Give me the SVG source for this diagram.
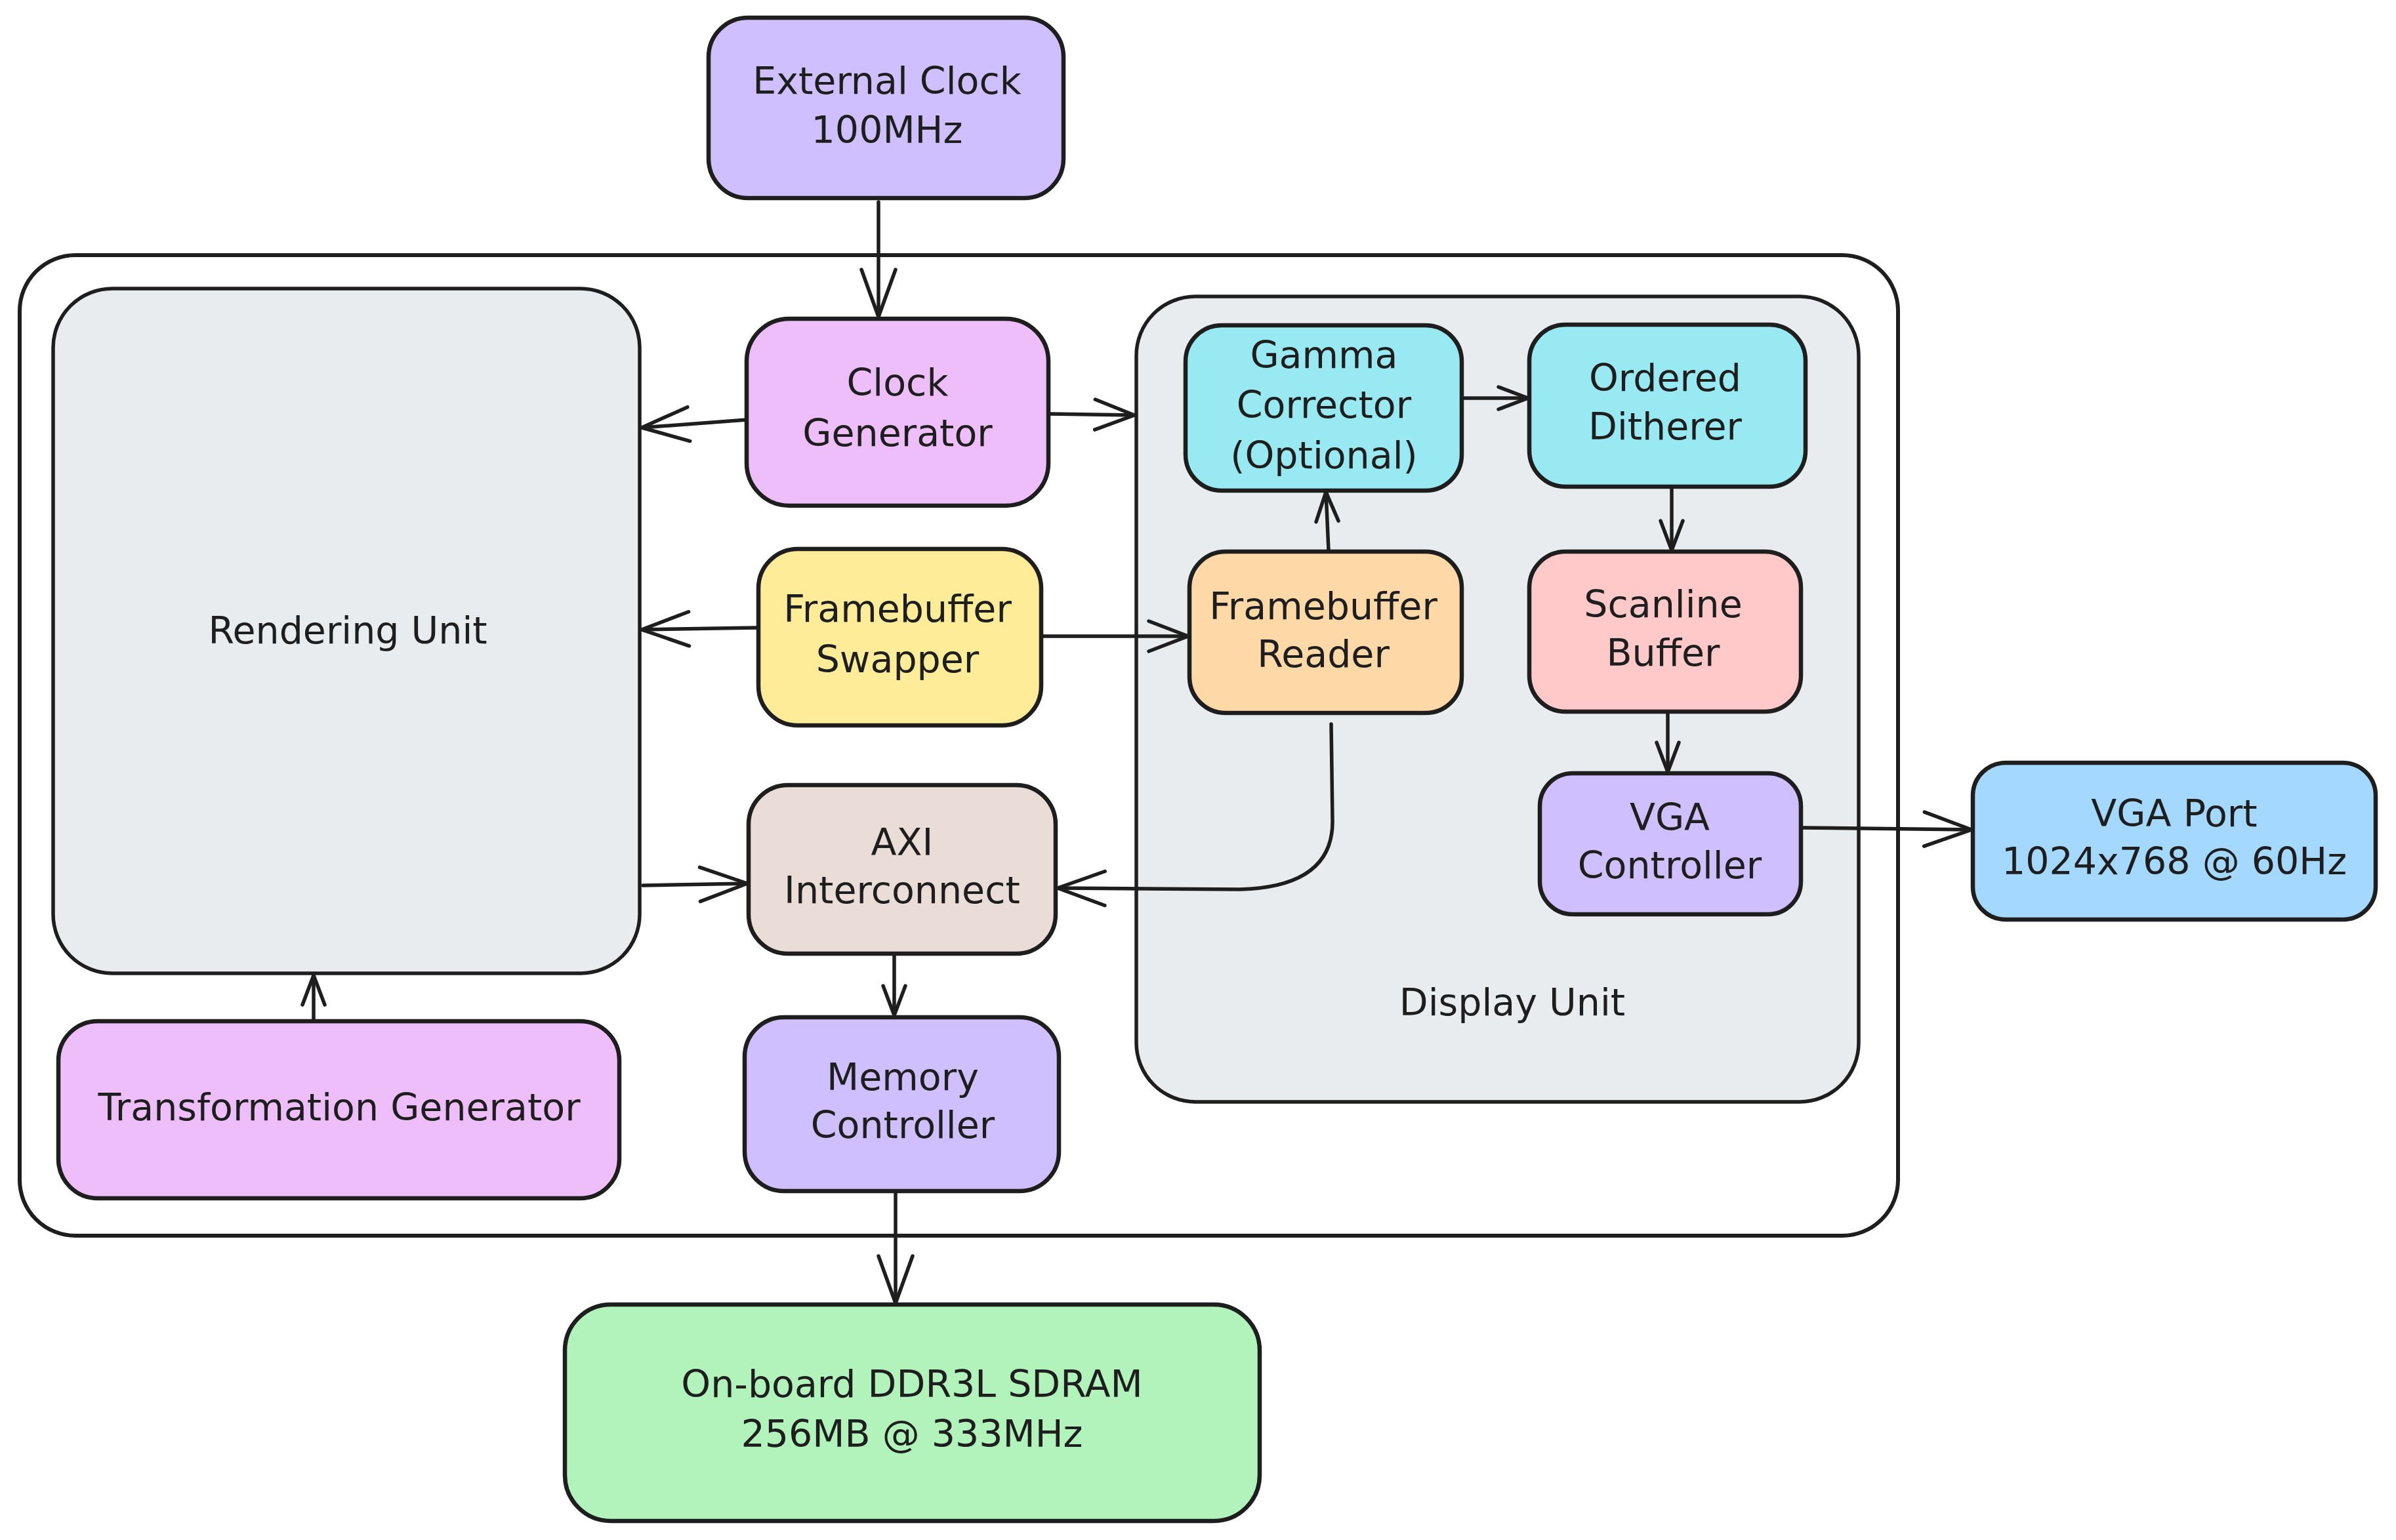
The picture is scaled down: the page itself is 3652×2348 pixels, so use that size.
<svg xmlns="http://www.w3.org/2000/svg" width="3652" height="2348" viewBox="0 0 3652 2348">
<defs>
<style>
.box{stroke:#1e1e1e;stroke-width:6.5;stroke-linejoin:round}
.cont{fill:#e9ecef;stroke:#1e1e1e;stroke-width:5.5}
.t{font-family:"DejaVu Sans",sans-serif;font-size:57px;fill:#1e1e1e;text-anchor:middle}
.c{fill:none;stroke:#1e1e1e;stroke-width:5.5;stroke-linecap:round;stroke-linejoin:round}
</style>
<marker id="ahL" markerUnits="userSpaceOnUse" viewBox="-80 -40 90 80" markerWidth="90" markerHeight="80" refX="0" refY="0" orient="auto" overflow="visible"><path d="M-72,-26 L0,0 L-72,26" fill="none" stroke="#1e1e1e" stroke-width="5.5" stroke-linecap="round" stroke-linejoin="round"/></marker>
<marker id="ahM" markerUnits="userSpaceOnUse" viewBox="-80 -40 90 80" markerWidth="90" markerHeight="80" refX="0" refY="0" orient="auto" overflow="visible"><path d="M-60,-23 L0,0 L-60,23" fill="none" stroke="#1e1e1e" stroke-width="5.5" stroke-linecap="round" stroke-linejoin="round"/></marker>
<marker id="ahS" markerUnits="userSpaceOnUse" viewBox="-80 -40 90 80" markerWidth="90" markerHeight="80" refX="0" refY="0" orient="auto" overflow="visible"><path d="M-45,-17 L0,0 L-45,17" fill="none" stroke="#1e1e1e" stroke-width="5.5" stroke-linecap="round" stroke-linejoin="round"/></marker>
</defs>
<rect width="3652" height="2348" fill="#ffffff"/>

<g id="system">
<rect x="30" y="389" width="2863" height="1495" rx="85" fill="#ffffff" stroke="#1e1e1e" stroke-width="6"/>
</g>

<g id="rendering-unit">
<rect class="cont" x="81" y="440" width="894" height="1044" rx="90"/>
<text class="t" x="530" y="981">Rendering Unit</text>
</g>

<g id="display-unit">
<rect class="cont" x="1732" y="452" width="1101" height="1228" rx="90"/>
<text class="t" x="2305" y="1548">Display Unit</text>
</g>

<g id="external-clock">
<rect class="box" x="1080" y="27" width="541" height="275" rx="60" fill="#d0bfff"/>
<text class="t" x="1352" y="143">External Clock</text>
<text class="t" x="1352" y="218">100MHz</text>
</g>

<g id="clock-generator">
<rect class="box" x="1138" y="486" width="460" height="285" rx="65" fill="#eebefa"/>
<text class="t" x="1368" y="603">Clock</text>
<text class="t" x="1368" y="680">Generator</text>
</g>

<g id="framebuffer-swapper">
<rect class="box" x="1156" y="837" width="431" height="269" rx="60" fill="#ffec99"/>
<text class="t" x="1368" y="948">Framebuffer</text>
<text class="t" x="1368" y="1025">Swapper</text>
</g>

<g id="axi-interconnect">
<rect class="box" x="1141" y="1197" width="468" height="257" rx="60" fill="#eaddd7"/>
<text class="t" x="1375" y="1304">AXI</text>
<text class="t" x="1375" y="1377">Interconnect</text>
</g>

<g id="memory-controller">
<rect class="box" x="1135" y="1551" width="479" height="265" rx="60" fill="#d0bfff"/>
<text class="t" x="1376" y="1662">Memory</text>
<text class="t" x="1376" y="1735">Controller</text>
</g>

<g id="transformation-generator">
<rect class="box" x="89" y="1557" width="855" height="270" rx="60" fill="#eebefa"/>
<text class="t" x="517" y="1708">Transformation Generator</text>
</g>

<g id="sdram">
<rect class="box" x="861" y="1989" width="1059" height="330" rx="70" fill="#b2f2bb"/>
<text class="t" x="1390" y="2130">On-board DDR3L SDRAM</text>
<text class="t" x="1390" y="2206">256MB @ 333MHz</text>
</g>

<g id="gamma-corrector">
<rect class="box" x="1807" y="496" width="421" height="252" rx="55" fill="#99e9f2"/>
<text class="t" x="2018" y="561">Gamma</text>
<text class="t" x="2018" y="637">Corrector</text>
<text class="t" x="2018" y="714">(Optional)</text>
</g>

<g id="ordered-ditherer">
<rect class="box" x="2331" y="495" width="421" height="247" rx="55" fill="#99e9f2"/>
<text class="t" x="2538" y="596">Ordered</text>
<text class="t" x="2538" y="670">Ditherer</text>
</g>

<g id="framebuffer-reader">
<rect class="box" x="1813" y="841" width="415" height="246" rx="55" fill="#ffd8a8"/>
<text class="t" x="2017" y="944">Framebuffer</text>
<text class="t" x="2017" y="1017">Reader</text>
</g>

<g id="scanline-buffer">
<rect class="box" x="2331" y="841" width="414" height="244" rx="55" fill="#ffc9c9"/>
<text class="t" x="2535" y="941">Scanline</text>
<text class="t" x="2535" y="1015">Buffer</text>
</g>

<g id="vga-controller">
<rect class="box" x="2347" y="1179" width="398" height="215" rx="50" fill="#d0bfff"/>
<text class="t" x="2545" y="1266">VGA</text>
<text class="t" x="2545" y="1339">Controller</text>
</g>

<g id="vga-port">
<rect class="box" x="3007" y="1163" width="614" height="239" rx="50" fill="#a5d8ff"/>
<text class="t" x="3314" y="1260">VGA Port</text>
<text class="t" x="3314" y="1333">1024x768 @ 60Hz</text>
</g>

<g id="connectors">
<path class="c" d="M1339,308 L1339,483" marker-end="url(#ahL)"/>
<path class="c" d="M1138,640 L978,652" marker-end="url(#ahL)"/>
<path class="c" d="M1600,631 L1729,633" marker-end="url(#ahM)"/>
<path class="c" d="M1156,957 L978,960" marker-end="url(#ahL)"/>
<path class="c" d="M1587,970 L1811,970" marker-end="url(#ahM)"/>
<path class="c" d="M980,1350 L1139,1347" marker-end="url(#ahL)"/>
<path class="c" d="M2029,1104 L2031,1250 Q2033,1352 1890,1356 L1612,1354" marker-end="url(#ahL)"/>
<path class="c" d="M1363,1456 L1363,1548" marker-end="url(#ahS)"/>
<path class="c" d="M1365,1818 L1365,1987" marker-end="url(#ahL)"/>
<path class="c" d="M478,1555 L478,1487" marker-end="url(#ahS)"/>
<path class="c" d="M2230,607 L2329,607" marker-end="url(#ahS)"/>
<path class="c" d="M2025,839 L2021,750" marker-end="url(#ahS)"/>
<path class="c" d="M2548,744 L2548,839" marker-end="url(#ahS)"/>
<path class="c" d="M2542,1087 L2542,1177" marker-end="url(#ahS)"/>
<path class="c" d="M2745,1262 L3005,1265" marker-end="url(#ahL)"/>
</g>
</svg>
